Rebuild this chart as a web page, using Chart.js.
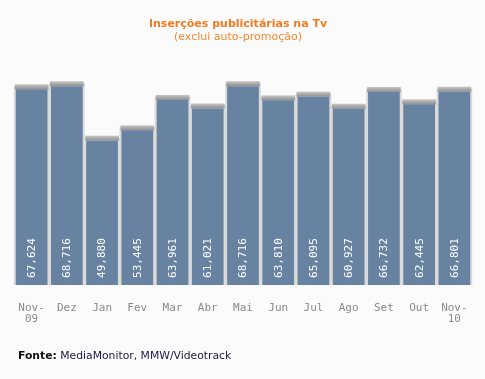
<!DOCTYPE html>
<html><head><meta charset="utf-8">
<script src="https://cdn.jsdelivr.net/npm/chart.js@4/dist/chart.umd.min.js"></script>
<style>
html,body{margin:0;padding:0;background:#fbfbfb;}
#wrap{position:relative;width:485px;height:379px;}
#c{position:absolute;left:0;top:0;}
.t{position:absolute;left:138px;width:200px;text-align:center;font-family:"DejaVu Sans",Verdana,sans-serif;font-size:11px;white-space:nowrap;}
#title{top:17px;font-weight:bold;color:#f47b20;}
#sub{top:30px;color:#f58630;}
#fonte{position:absolute;left:18px;top:349px;font:10.8px "DejaVu Sans",Verdana,sans-serif;color:#1a1a4a;white-space:nowrap;}
#fonte b{color:#111;}
</style></head>
<body>
<div id="wrap"><canvas id="c" width="485" height="379"></canvas>
<div class="t" id="title">Inserções publicitárias na Tv</div>
<div class="t" id="sub">(exclui auto-promoção)</div>
<div id="fonte"><b>Fonte:</b> MediaMonitor, MMW/Videotrack</div></div>
<script>
const categories = [["Nov-","09"],"Dez","Jan","Fev","Mar","Abr","Mai","Jun","Jul","Ago","Set","Out",["Nov-","10"]];
const insercoes = [67624,68716,49880,53445,63961,61021,68716,63810,65095,60927,66732,62445,66801];
const valueLabels = ["67,624","68,716","49,880","53,445","63,961","61,021","68,716","63,810","65,095","60,927","66,732","62,445","66,801"];

const shadowPlugin = {
  id:'shadow',
  beforeDatasetsDraw(chart){
    const ctx = chart.ctx;
    chart.getDatasetMeta(0).data.forEach(bar=>{
      const w = bar.width, l = bar.x - w/2, t = bar.y, b = bar.base;
      ctx.save();
      ctx.fillStyle = '#dadada';
      ctx.fillRect(l-2, t-3, w+4, b-t+3);
      const g = ctx.createLinearGradient(0, t-5, 0, t);
      g.addColorStop(0,'#c8c8c8');
      g.addColorStop(0.5,'#aaaaaa');
      g.addColorStop(1,'#909090');
      ctx.fillStyle = g;
      ctx.fillRect(l-1, t-5, w+2, 5);
      ctx.restore();
    });
  },
  afterDatasetsDraw(chart){
    const ctx = chart.ctx;
    chart.getDatasetMeta(0).data.forEach((bar,i)=>{
      ctx.save();
      ctx.translate(bar.x + 0.5, bar.base - 7);
      ctx.rotate(-Math.PI / 2);
      ctx.font = '11px "DejaVu Sans Mono", monospace';
      ctx.fillStyle = '#ffffff';
      ctx.textAlign = 'left';
      ctx.textBaseline = 'middle';
      ctx.fillText(valueLabels[i], 0, 0);
      ctx.restore();
    });
  }
};

new Chart(document.getElementById('c'), {
  type:'bar',
  data:{labels:categories, datasets:[{data:insercoes, backgroundColor:'#6883a1', borderWidth:0, barPercentage:0.9, categoryPercentage:1}]},
  options:{
    responsive:false, animation:false, devicePixelRatio:1,
    layout:{padding:{left:14,right:10,top:68,bottom:37}},
    plugins:{legend:{display:false}, tooltip:{enabled:false}, title:{display:false}},
    scales:{
      y:{display:false, min:0, max:75000},
      x:{grid:{display:false, drawTicks:false}, border:{display:false},
        ticks:{color:'#8a8a8a', padding:17, maxRotation:0, autoSkip:false,
          font:{family:'"DejaVu Sans Mono", monospace', size:11, lineHeight:1.05}}}
    }
  },
  plugins:[shadowPlugin]
});
</script>
</body></html>
